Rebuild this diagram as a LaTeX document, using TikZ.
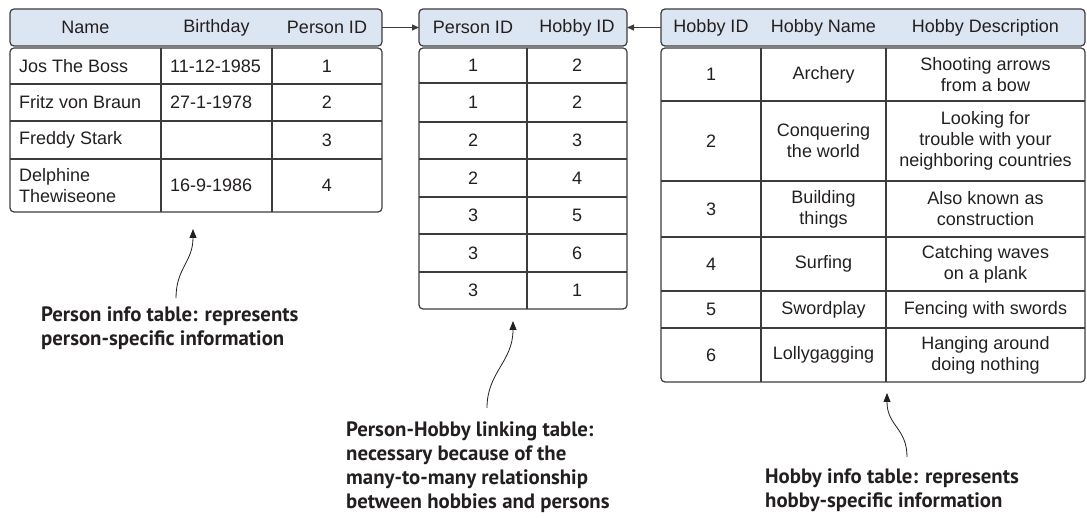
\documentclass[tikz,border=0pt]{standalone}
\usepackage{fontspec}
\setmainfont{Liberation Sans}
\newfontfamily\notefont{PT Sans}
\usetikzlibrary{arrows.meta}
\definecolor{hdr}{RGB}{220,230,242}
\definecolor{bord}{RGB}{60,60,60}
\definecolor{ink}{RGB}{35,31,32}
\begin{document}
\begin{tikzpicture}[x=1pt,y=-1pt,
  hdrbox/.style={draw=bord, line width=1.2pt, fill=hdr, rounded corners=4pt, inner sep=0pt, outer sep=0pt, anchor=north west},
  bodybox/.style={draw=bord, line width=1.2pt, rounded corners=4pt, inner sep=0pt, outer sep=0pt, anchor=north west},
  gridline/.style={draw=bord, line width=1.2pt},
  cell/.style={font=\fontsize{18}{21}\selectfont, text=ink, inner sep=0pt, align=center},
  lcell/.style={cell, anchor=west, align=left},
  note/.style={font=\notefont\bfseries\fontsize{20.8}{24}\selectfont, text=ink, anchor=north west, align=left, inner sep=0pt},
  tablelink/.style={draw=bord, line width=1pt, -{Triangle[length=7pt,width=6pt]}},
  callout/.style={draw=ink, line width=0.8pt, -{Triangle[length=9pt,width=7pt]}}]
\path[use as bounding box] (0,0) rectangle (1087,518);

% ---------- Person table ----------
\node[hdrbox, minimum width=372pt, minimum height=37pt] (ph) at (10,9) {};
\node[bodybox, minimum width=372pt, minimum height=164pt] (pb) at (10,48) {};
\draw[gridline] (161,48) -- (161,212) (272,48) -- (272,212);
\draw[gridline] (10,84) -- (382,84) (10,121) -- (382,121) (10,159) -- (382,159);
\node[cell] (phn) at (85.5,27.5) {Name};
\node[cell] (phb) at (216.5,27.5) {Birthday};
\node[cell] (phi) at (327,27.5) {Person ID};
\node[lcell] (pn1) at (19,66) {Jos The Boss};
\node[lcell] (pd1) at (170,66) {11-12-1985};
\node[cell]  (pi1) at (327,66) {1};
\node[lcell] (pn2) at (19,102.5) {Fritz von Braun};
\node[lcell] (pd2) at (170,102.5) {27-1-1978};
\node[cell]  (pi2) at (327,102.5) {2};
\node[lcell] (pn3) at (19,140) {Freddy Stark};
\node[cell]  (pi3) at (327,140) {3};
\node[lcell] (pn4) at (19,185.5) {Delphine\\Thewiseone};
\node[lcell] (pd4) at (170,185.5) {16-9-1986};
\node[cell]  (pi4) at (327,185.5) {4};

% ---------- Person-Hobby table ----------
\node[hdrbox, minimum width=208pt, minimum height=37pt] (lh) at (419,9) {};
\node[bodybox, minimum width=208pt, minimum height=261pt] (lb) at (419,48) {};
\draw[gridline] (527,48) -- (527,309);
\draw[gridline] (419,83) -- (627,83) (419,122) -- (627,122) (419,159) -- (627,159)
  (419,197) -- (627,197) (419,234) -- (627,234) (419,272) -- (627,272);
\node[cell] (lhp) at (473,27.5) {Person ID};
\node[cell] (lhh) at (577,27.5) {Hobby ID};
\foreach \p/\h/\y [count=\i] in {1/2/65.5, 1/2/102.5, 2/3/140.5, 2/4/178, 3/5/215.5, 3/6/253, 3/1/290.5}{
  \node[cell] (lp\i) at (473,\y) {\p};
  \node[cell] (lq\i) at (577,\y) {\h};
}

% ---------- Hobby table ----------
\node[hdrbox, minimum width=424pt, minimum height=37pt] (hh) at (661,9) {};
\node[bodybox, minimum width=424pt, minimum height=334pt] (hb) at (661,48) {};
\draw[gridline] (761,48) -- (761,382) (886,48) -- (886,382);
\draw[gridline] (661,101) -- (1085,101) (661,181) -- (1085,181) (661,237) -- (1085,237)
  (661,291) -- (1085,291) (661,328) -- (1085,328);
\node[cell] (hhi) at (711,27.5) {Hobby ID};
\node[cell] (hhn) at (823.5,27.5) {Hobby Name};
\node[cell] (hhd) at (985.5,27.5) {Hobby Description};
\node[cell] (hi1) at (711,74.5) {1};
\node[cell] (hn1) at (823.5,74.5) {Archery};
\node[cell] (hd1) at (985.5,74.5) {Shooting arrows\\from a bow};
\node[cell] (hi2) at (711,141) {2};
\node[cell] (hn2) at (823.5,141) {Conquering\\the world};
\node[cell] (hd2) at (985.5,141) {Looking for\\trouble with your\\neighboring countries};
\node[cell] (hi3) at (711,209) {3};
\node[cell] (hn3) at (823.5,209) {Building\\things};
\node[cell] (hd3) at (985.5,209) {Also known as\\construction};
\node[cell] (hi4) at (711,264) {4};
\node[cell] (hn4) at (823.5,264) {Surfing};
\node[cell] (hd4) at (985.5,264) {Catching waves\\on a plank};
\node[cell] (hi5) at (711,309.5) {5};
\node[cell] (hn5) at (823.5,309.5) {Swordplay};
\node[cell] (hd5) at (985.5,309.5) {Fencing with swords};
\node[cell] (hi6) at (711,355) {6};
\node[cell] (hn6) at (823.5,355) {Lollygagging};
\node[cell] (hd6) at (985.5,355) {Hanging around\\doing nothing};

% ---------- links between tables ----------
\draw[tablelink] (ph.east) -- (lh.west);
\draw[tablelink] (hh.west) -- (lh.east);

% ---------- annotations ----------
\node[note] (pnote) at (41,307) {Person info table: represents\\person-specific information};
\node[note] (lnote) at (346,422) {Person-Hobby linking table:\\necessary because of the\\many-to-many relationship\\between hobbies and persons};
\node[note] (hnote) at (765,469) {Hobby info table: represents\\hobby-specific information};

\coordinate (pt) at (176,298);
\coordinate (pp) at (193,229);
\coordinate (lt) at (487,408);
\coordinate (lp) at (513,321);
\coordinate (ht) at (907,457);
\coordinate (hp) at (887,393);
\draw[callout] (pt) .. controls (176,268) and (193,262) .. (pp);
\draw[callout] (lt) .. controls (487,372) and (513,362) .. (lp);
\draw[callout] (ht) .. controls (907,428) and (887,426) .. (hp);
\end{tikzpicture}
\end{document}
